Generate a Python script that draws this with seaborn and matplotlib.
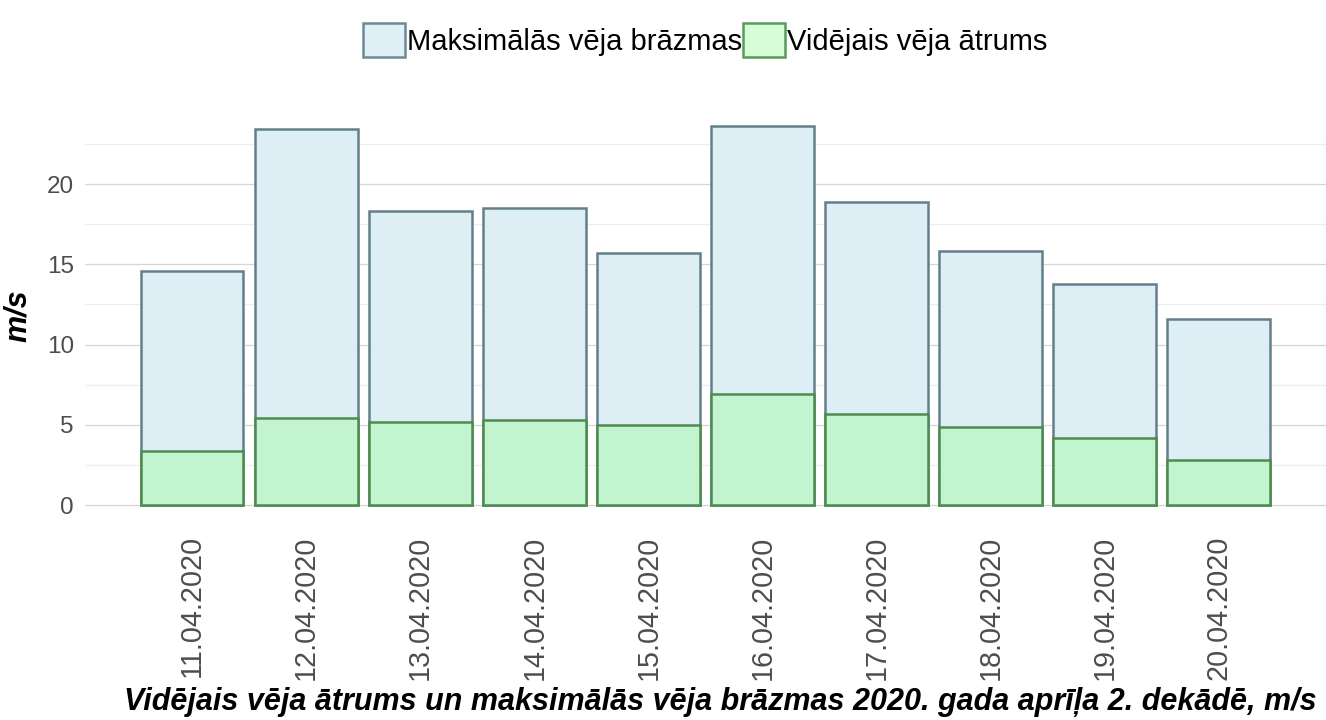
import matplotlib
matplotlib.use("Agg")
import matplotlib.pyplot as plt
import seaborn as sns
import pandas as pd
from matplotlib.patches import Patch
from matplotlib.ticker import MultipleLocator

# Wind data, 2nd decade of April 2020
dates = ["11.04.2020", "12.04.2020", "13.04.2020", "14.04.2020", "15.04.2020",
         "16.04.2020", "17.04.2020", "18.04.2020", "19.04.2020", "20.04.2020"]
max_gust = [14.6, 23.4, 18.3, 18.5, 15.7, 23.6, 18.9, 15.8, 13.8, 11.6]
mean_speed = [3.4, 5.4, 5.2, 5.3, 5.0, 6.9, 5.7, 4.9, 4.2, 2.8]

label_max = "Maksimālās vēja brāzmas"
label_mean = "Vidējais vēja ātrums"
title = "Vidējais vēja ātrums un maksimālās vēja brāzmas 2020. gada aprīļa 2. dekādē, m/s"

df = pd.DataFrame({"date": dates, "max": max_gust, "mean": mean_speed})

sns.set_style("white")
plt.rcParams["font.family"] = ["Liberation Sans", "DejaVu Sans"]

fig = plt.figure(figsize=(13.26, 7.2), dpi=100)
ax = fig.add_axes([0.064, 0.272, 0.936, 0.579])

sns.barplot(data=df, x="date", y="max", order=dates, color="#ddeef5", saturation=1,
            edgecolor="#62808a", linewidth=1.8, width=0.9, ax=ax, zorder=2)
sns.barplot(data=df, x="date", y="mean", order=dates, color="#c2f4cf", saturation=1,
            edgecolor="#4d8b4f", linewidth=1.8, width=0.9, ax=ax, zorder=3)

ax.set_xlim(-0.94, 9.94)
ax.set_ylim(-1.18, 24.78)
ax.yaxis.set_major_locator(MultipleLocator(5))
ax.yaxis.set_minor_locator(MultipleLocator(2.5))
ax.grid(axis="y", which="major", color="#d6d6d6", linewidth=0.9, zorder=0)
ax.grid(axis="y", which="minor", color="#ededed", linewidth=0.9, zorder=0)
ax.set_axisbelow(True)
for s in ax.spines.values():
    s.set_visible(False)

ax.tick_params(axis="both", which="both", length=0)
ax.tick_params(axis="y", labelsize=17.5, labelcolor="#4d4d4d", pad=8)
ax.tick_params(axis="x", labelsize=20.7, labelcolor="#4d4d4d", pad=8)
plt.setp(ax.get_xticklabels(), rotation=90, va="top", ha="center")

ax.set_xlabel("")
ax.set_ylabel("m/s", fontsize=22, fontweight="bold", fontstyle="italic",
              color="black", labelpad=10)

handles = [Patch(facecolor="#e0f0f6", edgecolor="#6c8a93", linewidth=1.8, label=label_max),
           Patch(facecolor="#d6fdd6", edgecolor="#5a9a5c", linewidth=1.8, label=label_mean)]
fig.legend(handles=handles, loc="center", bbox_to_anchor=(705 / 1326, 1 - 40 / 720),
           ncol=2, frameon=False, fontsize=21, labelcolor="black",
           handlelength=1.45, handleheight=1.45, handletextpad=0.05, columnspacing=0.05)

fig.text(720 / 1326, 1 - 702 / 720, title, ha="center", va="center",
         fontsize=22, fontweight="bold", fontstyle="italic", color="black")

fig.savefig("out.png", dpi=100)
